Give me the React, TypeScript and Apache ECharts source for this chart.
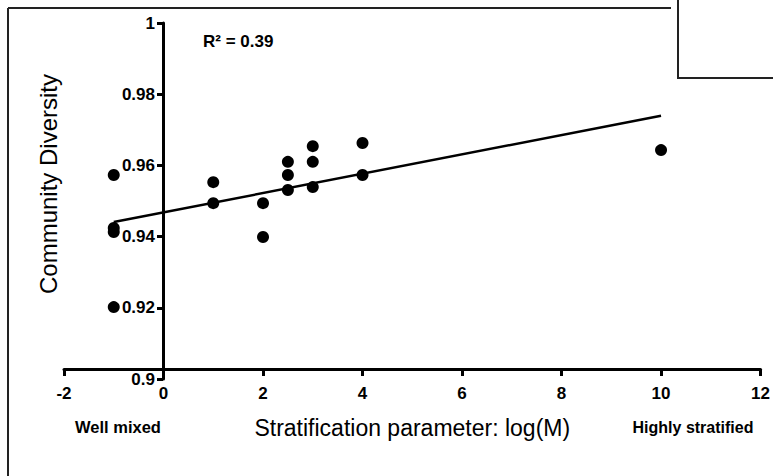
import React, { useEffect, useRef } from "react";
import * as echarts from "echarts";

const xValues = [-1, -1, -1, -1, 1, 1, 2, 2, 2.5, 2.5, 2.5, 3, 3, 3, 4, 4, 10];
const yValues = [0.9573, 0.9424, 0.9413, 0.9202, 0.9553, 0.9494, 0.9494, 0.9399, 0.961, 0.9573, 0.9531, 0.9654, 0.961, 0.9539, 0.9663, 0.9573, 0.9643];
const xTickLabels = ["-2", "0", "2", "4", "6", "8", "10", "12"];
const yTickLabels = ["0.9", "0.92", "0.94", "0.96", "0.98", "1"];
const xTitle = "Stratification parameter: log(M)";
const yTitle = "Community Diversity";
const leftNote = "Well mixed";
const rightNote = "Highly stratified";
const r2Text = "R² = 0.39";

const FONT = "'Liberation Sans', Arial, sans-serif";

function regression(xs: number[], ys: number[]) {
  const n = xs.length;
  const mx = xs.reduce((a, b) => a + b, 0) / n;
  const my = ys.reduce((a, b) => a + b, 0) / n;
  let sxy = 0;
  let sxx = 0;
  for (let i = 0; i < n; i++) {
    sxy += (xs[i] - mx) * (ys[i] - my);
    sxx += (xs[i] - mx) * (xs[i] - mx);
  }
  const slope = sxy / sxx;
  return { slope, intercept: my - slope * mx };
}

export default function App() {
  const ref = useRef<HTMLDivElement>(null);
  useEffect(() => {
    if (!ref.current) return;
    const chart = echarts.init(ref.current, null, { renderer: "svg" });
    const { slope, intercept } = regression(xValues, yValues);
    const xmin = Math.min(...xValues);
    const xmax = Math.max(...xValues);
    const lineData = [
      [xmin, intercept + slope * xmin],
      [xmax, intercept + slope * xmax],
    ];
    const points = xValues.map((x, i) => [x, yValues[i]]);
    chart.setOption({
      animation: false,
      backgroundColor: "#fff",
      grid: { left: 64, right: 11, top: 23, bottom: 97, containLabel: false },
      xAxis: {
        type: "value",
        min: -2,
        max: 12,
        interval: 2,
        position: "bottom",
        offset: -10,
        axisLine: { onZero: false, lineStyle: { color: "#000", width: 3 } },
        axisTick: { show: true, length: 7, lineStyle: { color: "#000", width: 3 } },
        axisLabel: {
          color: "#000",
          fontFamily: FONT,
          fontWeight: "bold",
          fontSize: 17,
          margin: 16,
          formatter: (v: number) => xTickLabels[Math.round((v + 2) / 2)] ?? String(v),
        },
        splitLine: { show: false },
        name: xTitle,
        nameLocation: "middle",
        nameGap: 47,
        nameTextStyle: { color: "#000", fontFamily: FONT, fontSize: 23 },
      },
      yAxis: {
        type: "value",
        min: 0.9,
        max: 1,
        interval: 0.02,
        position: "left",
        offset: -99,
        axisLine: { onZero: false, lineStyle: { color: "#000", width: 3 } },
        axisTick: { show: true, length: 6, lineStyle: { color: "#000", width: 3 } },
        axisLabel: {
          color: "#000",
          fontFamily: FONT,
          fontWeight: "bold",
          fontSize: 17,
          margin: 8,
          formatter: (v: number) => yTickLabels[Math.round((v - 0.9) / 0.02)] ?? String(v),
        },
        splitLine: { show: false },
      },
      graphic: [
        { type: "line", shape: { x1: 8, y1: 8, x2: 8, y2: 480 }, style: { stroke: "#222", lineWidth: 2 } },
        { type: "line", shape: { x1: 8, y1: 8, x2: 671, y2: 8 }, style: { stroke: "#222", lineWidth: 2 } },
        { type: "rect", shape: { x: 678, y: -5, width: 110, height: 83 }, style: { stroke: "#222", lineWidth: 2, fill: "#fff" } },
        {
          type: "text",
          x: 48,
          y: 184,
          rotation: Math.PI / 2,
          style: { text: yTitle, fontFamily: FONT, fontSize: 24, fill: "#000", textAlign: "center", textVerticalAlign: "middle" },
        },
        {
          type: "text",
          x: 118,
          y: 427,
          style: { text: leftNote, fontFamily: FONT, fontSize: 16.5, fontWeight: "bold", fill: "#000", textAlign: "center", textVerticalAlign: "middle" },
        },
        {
          type: "text",
          x: 693,
          y: 427,
          style: { text: rightNote, fontFamily: FONT, fontSize: 16, fontWeight: "bold", fill: "#000", textAlign: "center", textVerticalAlign: "middle" },
        },
        {
          type: "text",
          x: 203,
          y: 41,
          style: { text: r2Text, fontFamily: FONT, fontSize: 17, fontWeight: "bold", fill: "#000", textAlign: "left", textVerticalAlign: "middle" },
        },
      ],
      series: [
        {
          type: "scatter",
          data: points,
          symbol: "circle",
          symbolSize: 12,
          itemStyle: { color: "#000", opacity: 1 },
          z: 3,
        },
        {
          type: "line",
          data: lineData,
          showSymbol: false,
          symbol: "none",
          lineStyle: { color: "#000", width: 2.5 },
          z: 2,
        },
      ],
    });
    return () => chart.dispose();
  }, []);
  return <div ref={ref} style={{ position: "absolute", left: 0, top: 0, width: 773, height: 476 }} />;
}
